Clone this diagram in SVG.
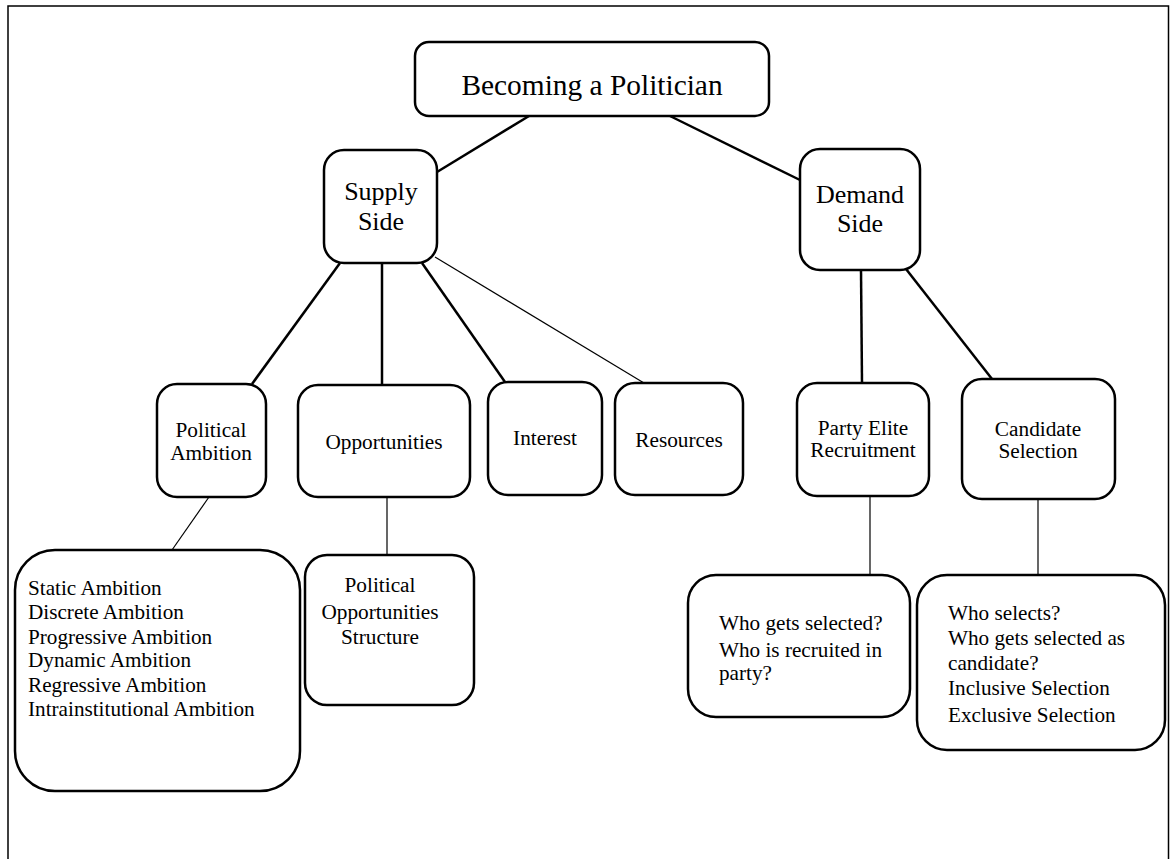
<svg xmlns="http://www.w3.org/2000/svg" width="1170" height="859" viewBox="0 0 1170 859" font-family="'Liberation Serif', 'DejaVu Serif', serif">
  <style>
    .box { fill: #fff; stroke: #000; stroke-width: 2.5; }
    .frame { fill: none; stroke: #000; stroke-width: 1.5; }
    .link { stroke: #000; stroke-width: 2.5; fill: none; }
    .thin { stroke: #000; stroke-width: 1.2; fill: none; }
    .lbl { font-family: 'Liberation Serif', 'DejaVu Serif', serif; fill: #000; }
    .t28 { font-size: 29.4px; text-anchor: middle; }
    .t25 { font-size: 26px; text-anchor: middle; }
    .t19 { font-size: 21.3px; text-anchor: middle; }
    .t20 { font-size: 21.2px; }
  </style>
  <rect x="0" y="0" width="1170" height="859" fill="#fff"/>
  <rect class="frame" x="8" y="6" width="1160.5" height="870"/>

  <g id="connectors">
    <line class="link" x1="529" y1="116" x2="437" y2="172"/>
    <line class="link" x1="670" y1="116" x2="800" y2="180"/>
    <line class="link" x1="340" y1="263" x2="252" y2="384"/>
    <line class="link" x1="382" y1="263" x2="382" y2="385"/>
    <line class="link" x1="422" y1="263" x2="505" y2="382"/>
    <line class="thin" x1="435" y1="257" x2="644" y2="383"/>
    <line class="link" x1="861" y1="270" x2="862" y2="383"/>
    <line class="link" x1="906" y1="269" x2="992" y2="379"/>
    <line class="thin" x1="209" y1="497" x2="172" y2="550"/>
    <line class="thin" x1="387" y1="497" x2="387" y2="555"/>
    <line class="thin" x1="870" y1="496" x2="870" y2="575"/>
    <line class="thin" x1="1038" y1="499" x2="1038" y2="575"/>
  </g>

  <g id="root">
    <rect class="box" x="415" y="42" width="354" height="74" rx="14"/>
    <text class="lbl t28" x="592" y="95">Becoming a Politician</text>
  </g>

  <g id="supply">
    <rect class="box" x="324" y="150" width="113" height="113" rx="20"/>
    <text class="lbl t25" x="381" y="200">Supply</text>
    <text class="lbl t25" x="381" y="230">Side</text>
  </g>

  <g id="demand">
    <rect class="box" x="800" y="149" width="120" height="121" rx="20"/>
    <text class="lbl t25" x="860" y="203">Demand</text>
    <text class="lbl t25" x="860" y="232">Side</text>
  </g>

  <g id="political-ambition">
    <rect class="box" x="157" y="384" width="109" height="113" rx="20"/>
    <text class="lbl t19" x="211" y="437">Political</text>
    <text class="lbl t19" x="211" y="460">Ambition</text>
  </g>

  <g id="opportunities">
    <rect class="box" x="298" y="385" width="172" height="112" rx="20"/>
    <text class="lbl t19" x="384" y="449">Opportunities</text>
  </g>

  <g id="interest">
    <rect class="box" x="488" y="382" width="114" height="113" rx="20"/>
    <text class="lbl t19" x="545" y="445">Interest</text>
  </g>

  <g id="resources">
    <rect class="box" x="615" y="383" width="128" height="112" rx="20"/>
    <text class="lbl t19" x="679" y="447">Resources</text>
  </g>

  <g id="party-elite">
    <rect class="box" x="797" y="383" width="132" height="113" rx="20"/>
    <text class="lbl t19" x="863" y="435">Party Elite</text>
    <text class="lbl t19" x="863" y="457">Recruitment</text>
  </g>

  <g id="candidate-selection">
    <rect class="box" x="962" y="379" width="153" height="120" rx="20"/>
    <text class="lbl t19" x="1038" y="436">Candidate</text>
    <text class="lbl t19" x="1038" y="458">Selection</text>
  </g>

  <g id="ambition-types">
    <rect class="box" x="15" y="550" width="285" height="241" rx="40"/>
    <text class="lbl t20" x="28" y="595">Static Ambition</text>
    <text class="lbl t20" x="28" y="619">Discrete Ambition</text>
    <text class="lbl t20" x="28" y="644">Progressive Ambition</text>
    <text class="lbl t20" x="28" y="667">Dynamic Ambition</text>
    <text class="lbl t20" x="28" y="692">Regressive Ambition</text>
    <text class="lbl t20" x="28" y="716">Intrainstitutional Ambition</text>
  </g>

  <g id="opportunity-structure">
    <rect class="box" x="305" y="555" width="169" height="150" rx="22"/>
    <text class="lbl t19" x="380" y="592">Political</text>
    <text class="lbl t19" x="380" y="619">Opportunities</text>
    <text class="lbl t19" x="380" y="644">Structure</text>
  </g>

  <g id="who-gets-selected">
    <rect class="box" x="688" y="575" width="222" height="142" rx="28"/>
    <text class="lbl t20" x="719" y="630">Who gets selected?</text>
    <text class="lbl t20" x="719" y="657">Who is recruited in</text>
    <text class="lbl t20" x="719" y="680">party?</text>
  </g>

  <g id="who-selects">
    <rect class="box" x="917" y="575" width="248" height="175" rx="30"/>
    <text class="lbl t20" x="948" y="620">Who selects?</text>
    <text class="lbl t20" x="948" y="645">Who gets selected as</text>
    <text class="lbl t20" x="948" y="670">candidate?</text>
    <text class="lbl t20" x="948" y="695">Inclusive Selection</text>
    <text class="lbl t20" x="948" y="722">Exclusive Selection</text>
  </g>
</svg>
